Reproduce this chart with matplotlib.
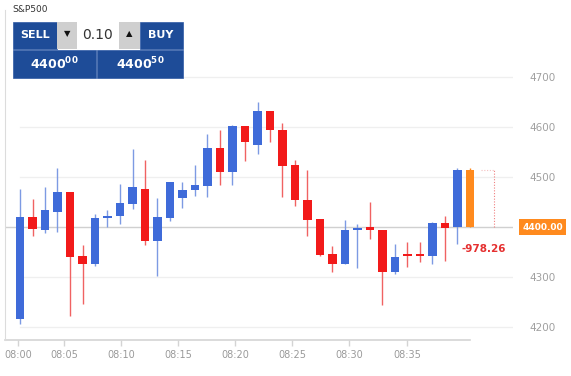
import matplotlib
matplotlib.use("Agg")
import matplotlib.pyplot as plt
from matplotlib.patches import Rectangle
import numpy as np

# candle data (one candle per slot)
opens = [4217, 4421, 4395, 4431, 4470, 4342, 4327, 4419, 4422, 4447,
         4477, 4373, 4419, 4459, 4474, 4483, 4559, 4511, 4602, 4565,
         4633, 4595, 4525, 4455, 4417, 4346, 4327, 4394, 4401, 4394,
         4310, 4347, 4346, 4342, 4409, 4401, 4400]
closes = [4421, 4397, 4434, 4470, 4341, 4327, 4419, 4423, 4449, 4481,
          4373, 4421, 4491, 4475, 4485, 4559, 4511, 4603, 4570, 4633,
          4594, 4523, 4454, 4415, 4345, 4326, 4394, 4399, 4394, 4310,
          4341, 4343, 4342, 4409, 4399, 4514, 4515]
highs = [4477, 4457, 4481, 4519, 4470, 4365, 4427, 4435, 4486, 4557,
         4535, 4458, 4491, 4490, 4525, 4587, 4594, 4605, 4602, 4650,
         4633, 4609, 4534, 4514, 4417, 4363, 4414, 4407, 4451, 4394,
         4366, 4370, 4371, 4411, 4423, 4519, 4519]
lows = [4207, 4382, 4389, 4391, 4223, 4247, 4322, 4401, 4406, 4437,
        4365, 4303, 4413, 4439, 4463, 4461, 4485, 4485, 4533, 4546,
        4570, 4461, 4443, 4382, 4342, 4310, 4326, 4319, 4377, 4245,
        4307, 4321, 4331, 4326, 4333, 4366, 4400]

tick_pos = [-0.16, 3.52, 8.08, 12.64, 17.2, 21.76, 26.32, 30.96]
tick_labels = ["08:00", "08:05", "08:10", "08:15", "08:20", "08:25", "08:30", "08:35"]
price_ticks = [4200, 4300, 4500, 4600, 4700]
current_price = 4400.00
pnl = -978.26

BLUE = "#3f6bd9"
RED = "#f21a1a"
ORANGE = "#ff8a1e"
W, H = 571, 376

fig = plt.figure(figsize=(W / 100, H / 100), dpi=100)
ax = fig.add_axes([5 / W, 1 - 340 / H, 508 / W, 330 / H])

n = len(opens)
x = np.arange(n)
o = np.array(opens, float)
c = np.array(closes, float)
colors = [BLUE if c[i] >= o[i] else RED for i in range(n)]
colors[-1] = ORANGE
wick_colors = ["#7d9ae3" if col == BLUE else "#f06262" if col == RED else ORANGE
               for col in colors]

ax.vlines(x, lows, highs, colors=wick_colors, linewidth=1.0, zorder=3)
bottoms = np.minimum(o, c)
heights = np.maximum(np.abs(c - o), 3)
ax.bar(x, heights, bottom=bottoms, width=0.68, color=colors, zorder=4)

ax.set_xlim(-1.2, 39.44)
ax.set_ylim(4174, 4834)

# grid and current price line
for p in price_ticks:
    ax.axhline(p, xmin=0.03, color="#efefef", linewidth=0.9, zorder=1)
ax.axhline(current_price, color="#d0d0d0", linewidth=1.0, zorder=2)

# dotted projection box next to the last candle
ax.vlines(n + 0.95, current_price, closes[-1], colors="#f08080",
          linestyles=(0, (1, 1.5)), linewidth=0.8, zorder=2)
ax.hlines(closes[-1], n - 0.1, n + 0.95, colors="#f4c0c0",
          linestyles=(0, (1, 1.5)), linewidth=0.8, zorder=2)

# axes styling
for s in ["top", "right", "bottom"]:
    ax.spines[s].set_visible(False)
ax.spines["left"].set_color("#dcdcdc")
ax.axhline(4174, xmin=0, xmax=465 / 508, color="#d4d4d4", linewidth=1.2, clip_on=False)

ax.set_xticks(tick_pos)
ax.set_xticklabels(tick_labels)
ax.tick_params(axis="x", colors="#d4d4d4", length=4, width=1, labelsize=7,
               labelcolor="#9a9a9a", pad=3)
ax.yaxis.tick_right()
ax.set_yticks(price_ticks)
ax.set_yticklabels([str(p) for p in price_ticks])
ax.tick_params(axis="y", length=0, labelsize=7.5, labelcolor="#a0a0a0", pad=12)

# current price tag and P/L
ax.text(1.018, current_price, f"{current_price:.2f}", transform=ax.get_yaxis_transform(),
        ha="left", va="center", fontsize=6.5, fontweight="bold", color="white",
        bbox=dict(boxstyle="square,pad=0.35", facecolor=ORANGE, edgecolor="none"),
        clip_on=False, zorder=6)
ax.text(n - 1.64, 4356, f"{pnl:.2f}", ha="left", va="center", fontsize=7.5,
        fontweight="bold", color="#e53030", zorder=6)

# trade widget in the top left
fig.text(12 / W, 1 - 10 / H, "S&P500", fontsize=6.5, color="#333333", ha="left", va="center")


def box(x0, y0, x1, y1, fc):
    fig.patches.append(Rectangle((x0 / W, 1 - y1 / H), (x1 - x0) / W, (y1 - y0) / H,
                                 transform=fig.transFigure, facecolor=fc,
                                 edgecolor="#2f5aa5" if fc == "#1e4c98" else "none",
                                 linewidth=0.5, zorder=5))


def label(px, py, s, **kw):
    fig.text(px / W, 1 - py / H, s, ha="center", va="center", zorder=6, **kw)


DARK = "#1e4c98"
box(12.7, 21.7, 56.7, 49.3, DARK)
box(56.7, 21.7, 77.3, 49.3, "#cfcfcf")
box(77.3, 21.7, 119, 49.3, "white")
box(119, 21.7, 140, 49.3, "#cfcfcf")
box(140, 21.7, 182.7, 49.3, DARK)
box(12.7, 49.8, 96, 78.3, DARK)
box(97.3, 49.8, 182.7, 78.3, DARK)

label(35, 35, "SELL", color="white", fontsize=8, fontweight="bold")
label(161, 35, "BUY", color="white", fontsize=8, fontweight="bold")
label(67, 34, "\u25bc", color="#111111", fontsize=6)
label(129.5, 34, "\u25b2", color="#111111", fontsize=6)
label(98, 35, "0.10", color="#333333", fontsize=10)
label(54, 64, r"$\mathbf{4400^{00}}$", color="white", fontsize=9)
label(140, 64, r"$\mathbf{4400^{50}}$", color="white", fontsize=9)

fig.savefig("out.png", dpi=100)
